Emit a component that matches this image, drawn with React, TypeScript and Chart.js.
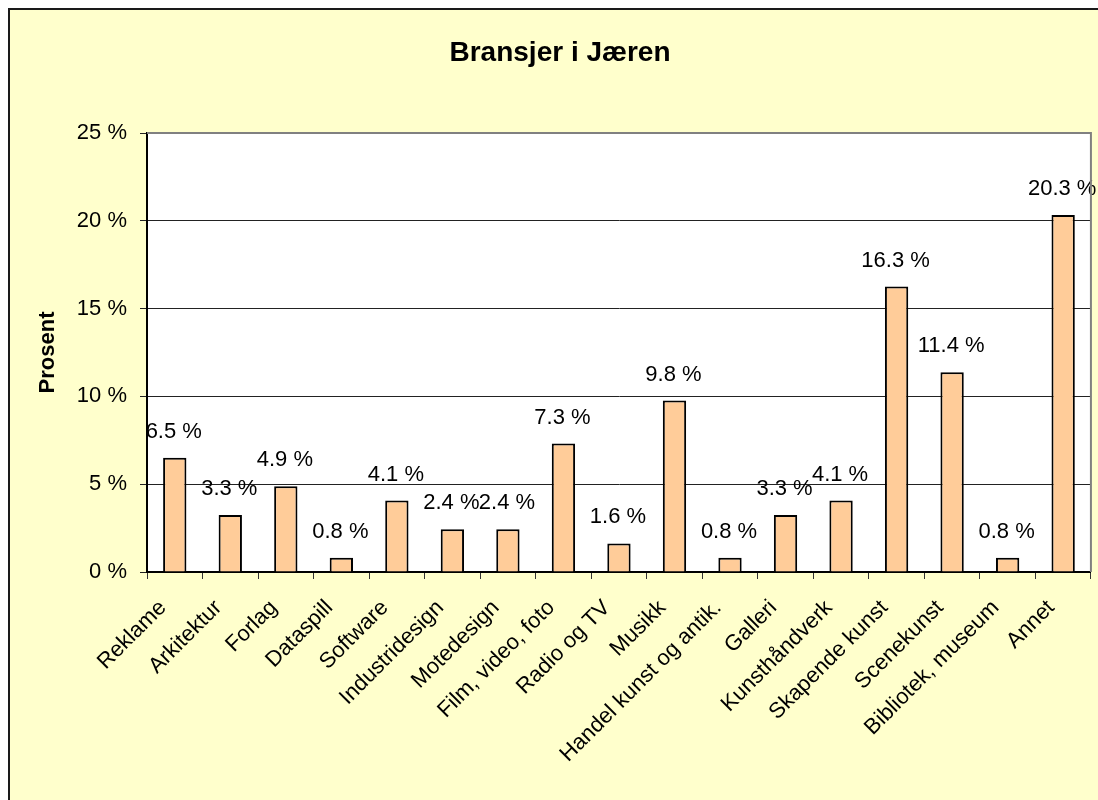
import React, { useEffect, useRef } from "react";
import { Chart, registerables } from "chart.js";

Chart.register(...registerables);

const chartTitle = "Bransjer i Jæren";
const yAxisTitle = "Prosent";
const categories = [
  "Reklame",
  "Arkitektur",
  "Forlag",
  "Dataspill",
  "Software",
  "Industridesign",
  "Motedesign",
  "Film, video, foto",
  "Radio og TV",
  "Musikk",
  "Handel kunst og antik.",
  "Galleri",
  "Kunsthåndverk",
  "Skapende kunst",
  "Scenekunst",
  "Bibliotek, museum",
  "Annet",
];
const shares = [6.5, 3.25, 4.88, 0.81, 4.07, 2.44, 2.44, 7.32, 1.63, 9.76, 0.81, 3.25, 4.07, 16.26, 11.38, 0.81, 20.33];
const yMin = 0;
const yMax = 25;
const yStep = 5;

const FONT = "'Liberation Sans', Arial, Helvetica, sans-serif";
const W = 1090;
const H = 792;

const decorPlugin = {
  id: "decor",
  beforeDraw(chart: any) {
    const { ctx, width, height, chartArea: a } = chart;
    ctx.save();
    ctx.fillStyle = "#FFFFCC";
    ctx.fillRect(0, 0, width, height);
    ctx.fillStyle = "#FFFFFF";
    ctx.fillRect(a.left, a.top, a.right - a.left, a.bottom - a.top);
    ctx.strokeStyle = "#1a1a1a";
    ctx.lineWidth = 2;
    ctx.beginPath();
    ctx.moveTo(1, height);
    ctx.lineTo(1, 1);
    ctx.lineTo(width, 1);
    ctx.stroke();
    ctx.fillStyle = "#000";
    ctx.font = `bold 28px ${FONT}`;
    ctx.textAlign = "center";
    ctx.textBaseline = "middle";
    ctx.fillText(chartTitle, 552, 45);
    ctx.restore();
  },
  afterDatasetsDraw(chart: any) {
    const { ctx } = chart;
    const meta = chart.getDatasetMeta(0);
    ctx.save();
    ctx.fillStyle = "#000";
    ctx.font = `22px ${FONT}`;
    ctx.textAlign = "center";
    ctx.textBaseline = "middle";
    meta.data.forEach((bar: any, i: number) => {
      const v = chart.data.datasets[0].data[i] as number;
      ctx.fillText(`${v.toFixed(1)} %`, bar.x - 1, bar.y - 26);
    });
    ctx.restore();
  },
  afterDraw(chart: any) {
    const { ctx, chartArea: a } = chart;
    ctx.save();
    ctx.strokeStyle = "#808080";
    ctx.lineWidth = 2;
    ctx.beginPath();
    ctx.moveTo(a.left, a.top);
    ctx.lineTo(a.right, a.top);
    ctx.lineTo(a.right, a.bottom);
    ctx.stroke();
    ctx.restore();
  },
};

export default function App() {
  const ref = useRef<HTMLCanvasElement | null>(null);

  useEffect(() => {
    if (!ref.current) return;
    const chart = new Chart(ref.current, {
      type: "bar",
      data: {
        labels: categories,
        datasets: [
          {
            data: shares,
            backgroundColor: "#FFCC99",
            borderColor: "#000000",
            borderWidth: 2,
            barPercentage: 0.42,
            categoryPercentage: 1,
          },
        ],
      },
      options: {
        animation: false,
        responsive: false,
        devicePixelRatio: 1,
        layout: { padding: { top: 125, right: 6, left: 0, bottom: 0 } },
        plugins: {
          legend: { display: false },
          title: { display: false },
          tooltip: { enabled: false },
        },
        scales: {
          x: {
            afterFit: (s: any) => {
              s.height = H - 564;
            },
            grid: {
              display: true,
              drawOnChartArea: false,
              drawTicks: true,
              tickLength: 7,
              color: "#333333",
              lineWidth: 1,
              offset: true,
            },
            border: { display: true, color: "#000000", width: 2 },
            ticks: {
              autoSkip: false,
              maxRotation: 45,
              minRotation: 45,
              padding: 16,
              labelOffset: -12,
              color: "#000000",
              font: { family: FONT, size: 22 },
            },
          },
          y: {
            min: yMin,
            max: yMax,
            afterFit: (s: any) => {
              s.width = 139;
            },
            grid: {
              color: "#222222",
              lineWidth: 1,
              drawTicks: true,
              tickLength: 7,
            },
            border: { display: true, color: "#000000", width: 2 },
            ticks: {
              stepSize: yStep,
              padding: 13,
              color: "#000000",
              font: { family: FONT, size: 22 },
              callback: (v: any) => `${v} %`,
            },
            title: {
              display: true,
              text: yAxisTitle,
              color: "#000000",
              font: { family: FONT, size: 22, weight: "bold", lineHeight: 1.2 },
              padding: { top: 27, bottom: 0 },
            },
          },
        },
      },
      plugins: [decorPlugin],
    });
    return () => chart.destroy();
  }, []);

  return (
    <div
      style={{
        position: "fixed",
        left: 8,
        top: 8,
        width: W,
        height: H,
        overflow: "hidden",
      }}
    >
      <canvas ref={ref} width={W} height={H} style={{ display: "block", width: W, height: H }} />
    </div>
  );
}
